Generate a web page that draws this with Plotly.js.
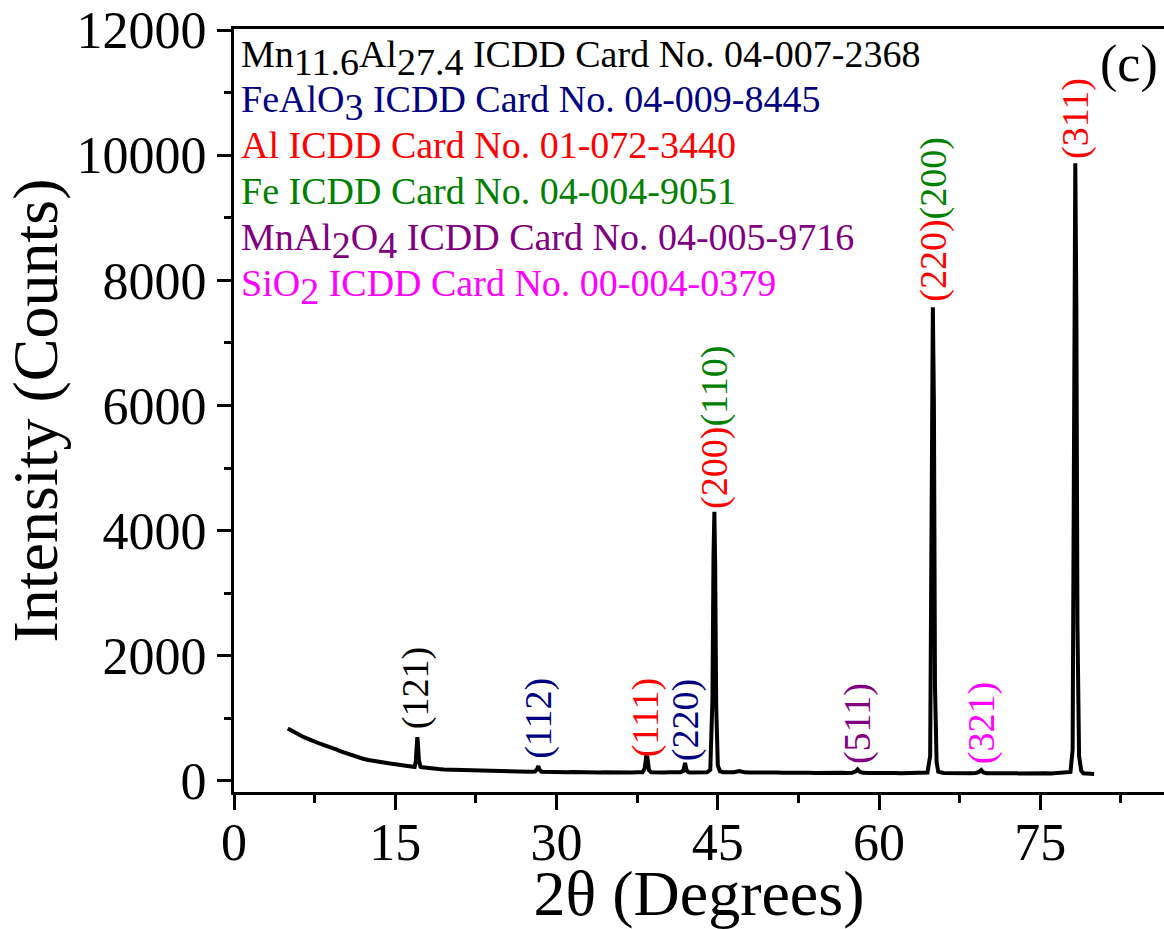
<!DOCTYPE html>
<html>
<head>
<meta charset="utf-8">
<script src="https://cdn.plot.ly/plotly-3.0.1.min.js"></script>
<style>html,body{margin:0;padding:0;background:#fff;}#chart{width:1164px;height:929px;}</style>
</head>
<body>
<div id="chart"></div>
<script>
const twoTheta = [
  5.0,5.5,6.0,6.5,7.0,7.5,8.0,8.5,9.0,9.5,10.0,10.5,11.0,11.5,12.0,12.5,13.0,13.5,14.0,14.5,
  15.0,15.5,16.0,16.5,16.8,16.9,17.0,17.05,17.1,17.2,17.35,17.5,18.0,18.5,19.0,19.5,20.0,20.5,
  21.0,21.5,22.0,22.5,23.0,23.5,24.0,24.5,25.0,25.5,26.0,26.5,27.0,27.5,28.0,28.2,28.3,28.4,28.6,
  29.0,29.5,30.0,30.5,31.0,31.5,32.0,32.5,33.0,33.5,34.0,34.5,35.0,35.5,36.0,36.5,37.0,37.5,
  38.0,38.2,38.35,38.45,38.6,38.8,39.0,39.5,40.0,40.5,41.0,41.5,41.8,41.95,42.1,42.3,42.5,43.0,
  43.5,44.0,44.3,44.5,44.6,44.68,44.75,44.85,45.0,45.2,45.5,46.0,46.5,47.0,47.2,47.5,48.0,48.5,
  49.0,49.5,50.0,50.5,51.0,51.5,52.0,52.5,53.0,53.5,54.0,54.5,55.0,55.5,56.0,56.5,57.0,57.5,
  57.8,58.0,58.2,58.5,59.0,59.5,60.0,60.5,61.0,61.5,62.0,62.5,63.0,63.5,64.0,64.5,64.75,64.9,
  65.0,65.1,65.2,65.35,65.5,66.0,66.5,67.0,67.5,68.0,68.5,69.0,69.3,69.5,69.7,70.0,70.5,71.0,
  71.5,72.0,72.5,73.0,73.5,74.0,74.5,75.0,75.5,76.0,76.5,77.0,77.5,77.8,78.0,78.15,78.25,78.35,
  78.45,78.6,78.8,79.0,79.5,80.0
];
const counts = [
  840,790,745,700,665,625,595,565,540,505,470,440,405,380,355,335,318,302,290,280,
  268,255,242,230,225,300,560,700,620,330,225,218,205,196,190,183,180,176,
  172,170,168,164,160,162,156,158,152,155,150,148,151,146,150,190,240,185,148,
  144,147,142,145,140,143,139,142,138,141,137,140,136,139,135,138,136,139,
  140,200,410,380,170,140,137,139,135,138,136,140,160,290,170,138,136,138,
  136,140,180,1300,3600,4300,3500,1200,250,155,140,137,140,160,145,138,135,138,
  134,137,133,136,132,135,131,134,130,133,129,132,130,133,128,131,129,132,
  150,185,148,130,128,131,127,130,126,129,125,128,124,127,126,135,400,5500,
  7570,6000,1500,300,150,128,124,127,123,126,122,128,145,175,138,124,127,123,
  126,122,125,121,124,120,123,119,122,120,124,126,130,145,500,6000,9870,7500,
  2500,400,165,122,115,110
];

// Phase reference lines (legend text) and colours
const SUB = s => "<sub><span style='font-size:38px'>" + s + "</span></sub>";
const phaseLines = [
  "Mn" + SUB("11.6") + "Al" + SUB("27.4") + " ICDD Card No. 04-007-2368",
  "FeAlO" + SUB("3") + " ICDD Card No. 04-009-8445",
  "Al ICDD Card No. 01-072-3440",
  "Fe ICDD Card No. 04-004-9051",
  "MnAl" + SUB("2") + "O" + SUB("4") + " ICDD Card No. 04-005-9716",
  "SiO" + SUB("2") + " ICDD Card No. 00-004-0379"
];
const phaseColors = ["#000000","#000080","#ff0000","#008000","#800080","#ff00ff"];

// Peak (hkl) labels: position, text and colour
const peakX = [16.95, 28.3, 38.35, 41.95, 44.68, 58.0, 65.05, 69.5, 78.25];
const peakLabelY = [815, 335, 368, 300, 4330, 255, 7640, 255, 9920];
const peakText = [
  "(121)",
  "(112)",
  "(111)",
  "(220)",
  "<span style='color:#ff0000'>(200)</span><span style='color:#008000'>(110)</span>",
  "(511)",
  "<span style='color:#ff0000'>(220)</span><span style='color:#008000'>(200)</span>",
  "(321)",
  "(311)"
];
const peakColors = ["#000000","#000080","#ff0000","#000080","#ff0000","#800080","#ff0000","#ff00ff","#ff0000"];

const FONT = "Liberation Serif, Times New Roman, serif";
const NB = "\u00a0";

const trace = {
  x: twoTheta, y: counts, type: "scatter", mode: "lines",
  line: {color: "#000000", width: 4}, hoverinfo: "skip", showlegend: false
};

const plotLeft = 234, plotRight = 1164, plotTop = 29, plotBottom = 792;
const pw = plotRight - plotLeft, ph = plotBottom - plotTop;
const px2x = p => (p - plotLeft) / pw;
const px2y = p => (plotBottom - p) / ph;

const annotations = [];
const legendTops = [32, 77, 123, 169, 215, 261];
phaseLines.forEach((t, i) => {
  annotations.push({
    xref: "paper", yref: "paper", x: px2x(240), y: px2y(legendTops[i]),
    xanchor: "left", yanchor: "top", showarrow: false, text: t, borderpad: 0,
    font: {family: FONT, size: 38, color: phaseColors[i]}
  });
});
peakX.forEach((x, i) => {
  annotations.push({
    xref: "x", yref: "y", x: x, y: peakLabelY[i], xanchor: "center", yanchor: "bottom",
    textangle: -90, showarrow: false, text: peakText[i], borderpad: 0,
    font: {family: FONT, size: 38, color: peakColors[i]}
  });
});
annotations.push({
  xref: "paper", yref: "paper", x: px2x(1129), y: px2y(64), xanchor: "center", yanchor: "middle",
  showarrow: false, text: "(c)", font: {family: FONT, size: 52, color: "#000000"}
});

const layout = {
  width: 1164, height: 929,
  margin: {l: plotLeft, r: 1164 - plotRight, t: plotTop, b: 929 - plotBottom, pad: 0},
  paper_bgcolor: "#ffffff", plot_bgcolor: "#ffffff",
  font: {family: FONT, color: "#000000"},
  showlegend: false,
  xaxis: {
    range: [0, 86.5], tick0: 0, dtick: 15, ticks: "outside", ticklen: 15, tickwidth: 3,
    tickcolor: "#000", showline: true, linewidth: 3, linecolor: "#000", mirror: true,
    ticklabelstandoff: -12,
    showgrid: false, zeroline: false, tickfont: {family: FONT, size: 52, color: "#000"},
    minor: {dtick: 7.5, tick0: 0, ticks: "outside", ticklen: 8, tickwidth: 3, tickcolor: "#000", showgrid: false},
    title: {text: "2θ (Degrees)", font: {family: FONT, size: 64, color: "#000"}, standoff: 0}
  },
  yaxis: {
    range: [-176, 12016], tick0: 0, dtick: 2000, tickformat: "d", ticks: "outside", ticklen: 14, tickwidth: 3,
    tickcolor: "#000", showline: true, linewidth: 3, linecolor: "#000", mirror: false,
    showgrid: false, zeroline: false, tickfont: {family: FONT, size: 52, color: "#000"},
    minor: {dtick: 1000, tick0: 0, ticks: "outside", ticklen: 7, tickwidth: 3, tickcolor: "#000", showgrid: false},
    title: {text: NB + NB + NB + NB + NB + NB + "Intensity (Counts)", font: {family: FONT, size: 64, color: "#000"}, standoff: 10}
  },
  annotations: annotations
};

Plotly.newPlot("chart", [trace], layout, {staticPlot: true, displayModeBar: false});
</script>
</body>
</html>
